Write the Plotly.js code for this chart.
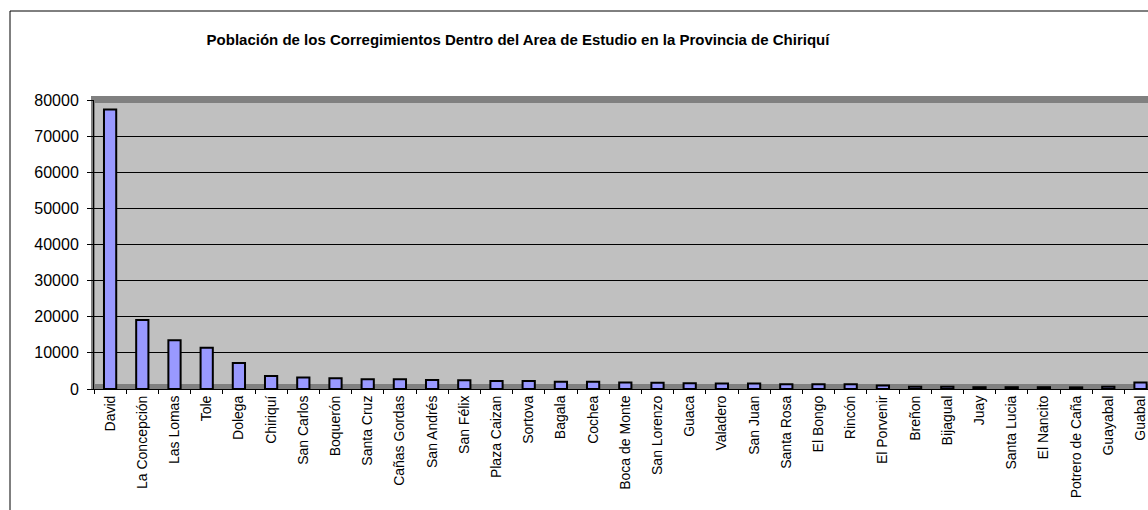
<!DOCTYPE html>
<html>
<head>
<meta charset="utf-8">
<script src="https://cdn.plot.ly/plotly-3.0.1.min.js"></script>
<style>
  html, body { margin: 0; padding: 0; background: #fff; overflow: hidden; }
  #chart { width: 1148px; height: 510px; }
</style>
</head>
<body>
<div id="chart"></div>
<script>
const categories = [
  "David", "La Concepción", "Las Lomas", "Tole", "Dolega", "Chiriquí",
  "San Carlos", "Boquerón", "Santa Cruz", "Cañas Gordas", "San Andrés",
  "San Félix", "Plaza Caizan", "Sortova", "Bagala", "Cochea",
  "Boca de Monte", "San Lorenzo", "Guaca", "Valadero", "San Juan",
  "Santa Rosa", "El Bongo", "Rincón", "El Porvenir", "Breñon", "Bijagual",
  "Juay", "Santa Lucia", "El Nancito", "Potrero de Caña", "Guayabal", "Guabal"
];
const population = [
  77400, 19100, 13500, 11400, 7200, 3600,
  3200, 3000, 2700, 2700, 2500,
  2400, 2200, 2200, 2000, 2000,
  1800, 1700, 1600, 1500, 1500,
  1300, 1300, 1300, 1000, 600, 600,
  500, 500, 500, 450, 600, 1800
];
const yTicks = [0, 10000, 20000, 30000, 40000, 50000, 60000, 70000, 80000];

const W = 1148, H = 510;
const L = 94, T = 100, B = 121;
const PW = W - L, PH = H - T - B;
const SLOT = 32.2;
const px = v => (v - L) / PW;
const py = v => (H - B - v) / PH;

const trace = {
  type: 'bar',
  x: categories,
  y: population,
  width: 0.38,
  marker: { color: '#9999FF', line: { color: '#000000', width: 2 } },
  hoverinfo: 'x+y'
};

const shapes = [
  // chart-area border (left and top)
  { type: 'line', xref: 'paper', yref: 'paper', x0: px(10), x1: px(10), y0: py(11), y1: py(520),
    line: { color: '#000', width: 1 }, layer: 'above' },
  { type: 'line', xref: 'paper', yref: 'paper', x0: px(10), x1: px(1160), y0: py(11), y1: py(11),
    line: { color: '#000', width: 1 }, layer: 'above' },
  // 3D wall edges
  { type: 'rect', xref: 'paper', yref: 'paper', x0: px(91), x1: px(1160), y0: py(96), y1: py(103),
    fillcolor: '#808080', line: { width: 0 }, layer: 'between' },
  { type: 'rect', xref: 'paper', yref: 'paper', x0: px(91), x1: px(95), y0: py(96), y1: py(389),
    fillcolor: '#808080', line: { width: 0 }, layer: 'between' },
  { type: 'rect', xref: 'paper', yref: 'paper', x0: px(91), x1: px(1160), y0: py(384), y1: py(389),
    fillcolor: '#808080', line: { width: 0 }, layer: 'between' }
];

const layout = {
  width: W, height: H,
  margin: { l: L, r: 0, t: T, b: B, pad: 0 },
  paper_bgcolor: '#ffffff',
  plot_bgcolor: '#C0C0C0',
  showlegend: false,
  font: { family: 'Liberation Sans, Arial, sans-serif', size: 14, color: '#000' },
  title: {
    text: '<b>Población de los Corregimientos Dentro del Area de Estudio en la Provincia de Chiriquí</b>',
    font: { family: 'Liberation Sans, Arial, sans-serif', size: 15, color: '#000' },
    xref: 'container', yref: 'container',
    x: 518 / W, xanchor: 'center',
    y: 1 - 40 / H, yanchor: 'middle'
  },
  xaxis: {
    type: 'category',
    range: [-0.5, -0.5 + PW / SLOT],
    tickangle: -90,
    tickfont: { size: 14 },
    showline: true, linecolor: '#000', linewidth: 1,
    ticks: 'outside', tickson: 'boundaries', ticklen: 4, tickcolor: '#000',
    showgrid: false, zeroline: false, fixedrange: true
  },
  yaxis: {
    range: [0, 80000],
    tickvals: yTicks,
    ticktext: yTicks.map(String),
    tickfont: { size: 16 },
    ticklabelstandoff: 5,
    showline: true, linecolor: '#000', linewidth: 1,
    ticks: 'outside', ticklen: 6, tickcolor: '#000',
    showgrid: true, gridcolor: '#000', gridwidth: 1,
    zeroline: false, fixedrange: true
  },
  shapes: shapes
};

Plotly.newPlot('chart', [trace], layout, { displayModeBar: false, staticPlot: true });
</script>
</body>
</html>
